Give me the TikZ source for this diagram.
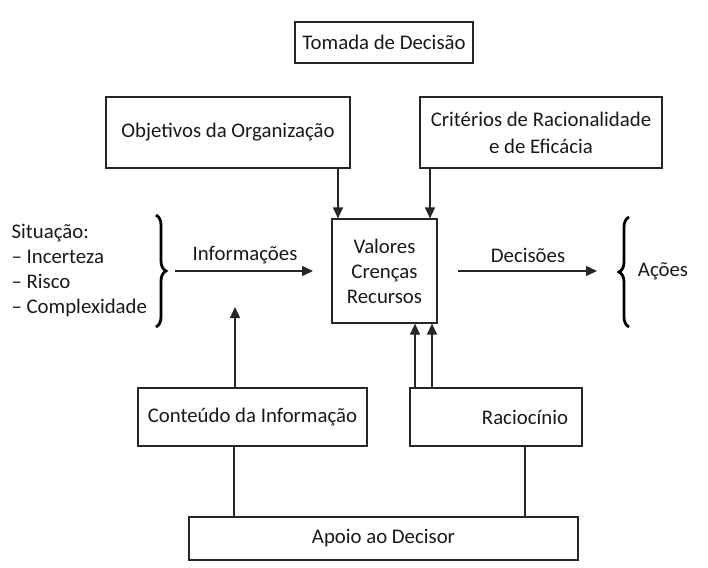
\documentclass[tikz,border=0pt]{standalone}
\usepackage{fontspec}
\setmainfont{Carlito}
\usetikzlibrary{arrows.meta,decorations.pathreplacing}
\begin{document}
\begin{tikzpicture}[x=1pt,y=-1pt,
  line width=1.2pt, draw=black!85,
  every node/.style={font=\fontsize{20.8}{25}\selectfont, text=black!90, inner sep=0pt},
  box/.style={draw=black!85, line width=1.2pt, align=center},
  arr/.style={draw=black!85, line width=1.2pt, -{Triangle[length=11pt,width=10pt]}},
  ln/.style={draw=black!85, line width=1.2pt},
  brc/.style={draw=black, line width=2.8pt, decorate, decoration={brace, amplitude=10pt}}]
\useasboundingbox (0,0) rectangle (708,567);

% boxes
\node[box, minimum width=178pt, minimum height=41pt] (tom) at (384,42.5) {Tomada de Decisão};
\node[box, minimum width=244pt, minimum height=71pt] (obj) at (228,132.5) {Objetivos da Organização};
\node[box, minimum width=242pt, minimum height=71pt] (cri) at (541,132.5) {Critérios de Racionalidade\\[2pt] e de Eficácia};
\node[box, minimum width=105pt, minimum height=104pt] (val) at (384.5,271) {Valores\\Crenças\\Recursos};
\node[box, minimum width=229pt, minimum height=58pt] (con) at (252.5,417) {Conteúdo da Informação};
\node[box, minimum width=172pt, minimum height=58pt] (rac) at (496,417) {\hspace*{58pt}Raciocínio};
\node[box, minimum width=389pt, minimum height=43pt] (apo) at (383.5,538.5) {Apoio ao Decisor};

% side texts
\node[anchor=west, align=left] (sit) at (11,270.5) {Situação:\\– Incerteza\\– Risco\\– Complexidade};
\node (inf) at (245,255) {Informações};
\node (dec) at (528,255) {Decisões};
\node (aco) at (663,271) {Ações};

% braces
\coordinate (lbT) at (156,215);
\coordinate (lbB) at (156,327);
\draw[brc] (lbT) -- (lbB);
\coordinate (rbT) at (629,217);
\coordinate (rbB) at (629,327);
\draw[brc] (rbB) -- (rbT);

% horizontal arrows
\coordinate (infS) at (175,271);
\coordinate (infE) at (313,271);
\draw[arr] (infS) -- (infE);
\coordinate (decS) at (458,271);
\coordinate (decE) at (597,271);
\draw[arr] (decS) -- (decE);

% arrows into Valores from top
\draw[arr] (338,0 |- obj.south) -- (338,0 |- val.north);
\draw[arr] (430,0 |- cri.south) -- (430,0 |- val.north);

% arrows into Valores from Raciocinio
\draw[arr] (415,0 |- rac.north) -- (415,0 |- val.south);
\draw[arr] (432,0 |- rac.north) -- (432,0 |- val.south);

% arrow from Conteudo up
\coordinate (infUp) at (235,307);
\draw[arr] (235,0 |- con.north) -- (infUp);

% lines to Apoio
\draw[ln] (234,0 |- con.south) -- (234,0 |- apo.north);
\draw[ln] (525,0 |- rac.south) -- (525,0 |- apo.north);
\end{tikzpicture}
\end{document}
